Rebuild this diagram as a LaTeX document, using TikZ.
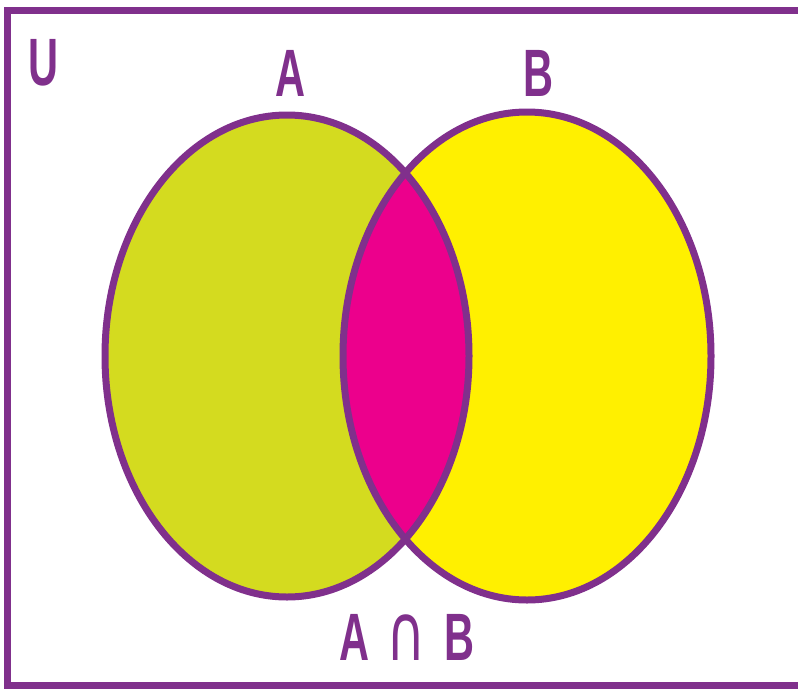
\documentclass[tikz,border=0pt]{standalone}
\usepackage{fontspec}
\setmainfont{Liberation Sans}
\newfontfamily\symfont{DejaVu Sans}
\definecolor{vpurple}{RGB}{128,48,140}
\definecolor{agreen}{RGB}{212,219,31}
\definecolor{byellow}{RGB}{255,240,0}
\definecolor{imagenta}{RGB}{236,0,140}
\tikzset{
  setline/.style={draw=vpurple, line width=7pt},
  lbl/.style={text=vpurple, font=\fontsize{67}{67}\selectfont\bfseries, inner sep=0pt, xscale=0.62}
}
\begin{document}
\begin{tikzpicture}[x=1pt,y=-1pt]
\useasboundingbox (0,0) rectangle (798,689);
\fill[white] (0,0) rectangle (798,689);
\coordinate (ca) at (287,356);
\coordinate (cb) at (527,356);
\fill[agreen] (ca) ellipse [x radius=182, y radius=241];
\fill[byellow] (cb) ellipse [x radius=184, y radius=244];
\begin{scope}
  \clip (ca) ellipse [x radius=182, y radius=241];
  \fill[imagenta] (cb) ellipse [x radius=184, y radius=244];
\end{scope}
\draw[setline] (ca) ellipse [x radius=182, y radius=241];
\draw[setline] (cb) ellipse [x radius=184, y radius=244];
\draw[setline] (7.5,10.5) rectangle (801.5,685.5);
\node[lbl] (u) at (43.5,63) {U};
\node[lbl] (a) at (290,73) {A};
\node[lbl] (b) at (538.5,73.5) {B};
\node[lbl] (ab) at (407,637.5) {A\hspace{27pt}{\symfont\mdseries\fontsize{79}{79}\selectfont\scalebox{1.1}[1]{∩}}\hspace{30pt}B};
\end{tikzpicture}
\end{document}
